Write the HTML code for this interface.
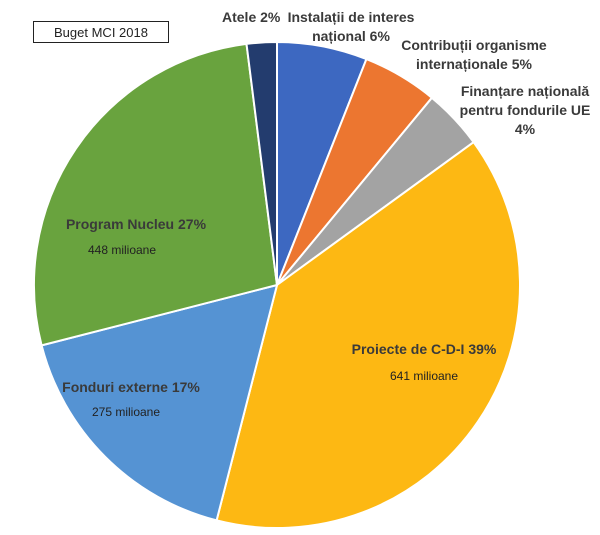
<!DOCTYPE html>
<html><head><meta charset="utf-8"><style>
html,body{margin:0;padding:0;background:#fff;}
body{width:600px;height:535px;position:relative;overflow:hidden;font-family:"Liberation Sans Narrow","Liberation Sans",sans-serif;}
.t{position:absolute;font-weight:bold;font-size:14px;color:#3a3a3a;text-align:center;white-space:nowrap;line-height:19px;}
.s{position:absolute;font-family:"Liberation Sans",sans-serif;font-size:12px;color:#222;white-space:nowrap;text-align:center;}
.box{position:absolute;left:33px;top:21px;width:136px;height:22px;border:1.5px solid #222;font-family:"Liberation Sans",sans-serif;font-size:13px;color:#222;text-align:center;line-height:22px;box-sizing:border-box;}
</style></head><body>
<svg width="600" height="535" style="position:absolute;left:0;top:0">
<g stroke="#fff" stroke-width="2" stroke-linejoin="round">
<path d="M277,285 L277,42 A243,243 0 0 1 366.4,59.1 Z" fill="#3d68c1"/>
<path d="M277,285 L366.4,59.1 A243,243 0 0 1 431.9,97.8 Z" fill="#ec7630"/>
<path d="M277,285 L431.9,97.8 A243,243 0 0 1 473.6,142.2 Z" fill="#a3a3a3"/>
<path d="M277,285 L473.6,142.2 A243,243 0 0 1 216.6,520.4 Z" fill="#fdb813"/>
<path d="M277,285 L216.6,520.4 A243,243 0 0 1 41.6,345.4 Z" fill="#5593d3"/>
<path d="M277,285 L41.6,345.4 A243,243 0 0 1 246.5,43.9 Z" fill="#69a33e"/>
<path d="M277,285 L246.5,43.9 A243,243 0 0 1 277,42 Z" fill="#233c6e"/>
</g></svg>
<div class="box">Buget MCI 2018</div>
<div class="t" style="left:222px;top:8px;">Atele 2%</div>
<div class="t" style="left:284px;top:8px;width:134px;">Instalații de interes<br>național 6%</div>
<div class="t" style="left:398px;top:36px;width:152px;">Contribuții organisme<br>internaționale 5%</div>
<div class="t" style="left:452px;top:82px;width:146px;">Finanțare națională<br>pentru fondurile UE<br>4%</div>
<div class="t" style="left:56px;top:215px;width:160px;">Program Nucleu 27%</div>
<div class="s" style="left:62px;top:243px;width:120px;">448 milioane</div>
<div class="t" style="left:344px;top:340px;width:160px;">Proiecte de C-D-I 39%</div>
<div class="s" style="left:364px;top:369px;width:120px;">641 milioane</div>
<div class="t" style="left:51px;top:378px;width:160px;">Fonduri externe 17%</div>
<div class="s" style="left:66px;top:405px;width:120px;">275 milioane</div>
</body></html>
